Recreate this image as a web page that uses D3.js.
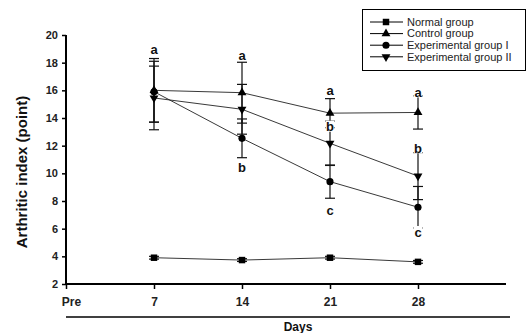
<!DOCTYPE html>
<html><head><meta charset="utf-8">
<script src="https://cdn.jsdelivr.net/npm/d3@7"></script>
<style>body{margin:0;background:#fff}svg{display:block}</style>
</head><body>
<svg id="c" width="528" height="333"></svg>
<script>
const xLabels = ["Pre","7","14","21","28"];
const days = ["7","14","21","28"];
const yTicks = [2,4,6,8,10,12,14,16,18,20];
const seriesNames = ["Normal group","Control group","Experimental group I","Experimental group II"];
const normalMean = [3.9,3.73,3.9,3.6];
const normalSD = [0.1,0.1,0.1,0.1];
const controlMean = [16.0,15.83,14.35,14.4];
const controlSD = [2.3,2.2,1.05,1.2];
const exp1Mean = [15.9,12.53,9.4,7.55];
const exp1SD = [2.2,1.4,1.2,1.5];
const exp2Mean = [15.45,14.63,12.17,9.8];
const exp2SD = [2.3,1.8,1.6,1.7];
const letterDays = ["7","14","14","21","21","21","28","28","28"];
const letterText = ["a","a","b","a","b","c","a","b","c"];
const letterPos = [19.0,18.56,10.45,15.98,13.37,7.35,15.85,11.81,5.76];

const series = [
  {name:seriesNames[0], mean:normalMean, sd:normalSD, sym:d3.symbolSquare, rot:0, size:42},
  {name:seriesNames[1], mean:controlMean, sd:controlSD, sym:d3.symbolTriangle, rot:0, size:34},
  {name:seriesNames[2], mean:exp1Mean, sd:exp1SD, sym:d3.symbolCircle, rot:0, size:40},
  {name:seriesNames[3], mean:exp2Mean, sd:exp2SD, sym:d3.symbolTriangle, rot:180, size:34}
];

const svg = d3.select("#c");
const x = d3.scaleLinear().domain([0,5]).range([66,506]);
const xi = l => x(xLabels.indexOf(l));
const y = d3.scaleLinear().domain([2,20]).range([284,35]);

const line = d3.line().x((d,i)=>xi(days[i])).y(d=>y(d));
series.forEach(s=>{
  svg.append("path").attr("d",line(s.mean)).attr("fill","none").attr("stroke","#222").attr("stroke-width",0.9);
});
series.forEach(s=>{
  const g = svg.append("g").attr("stroke","#111").attr("stroke-width",1.2);
  s.mean.forEach((m,i)=>{
    const cx = xi(days[i]);
    const hi = y(m+s.sd[i]), lo = y(m-s.sd[i]);
    g.append("line").attr("x1",cx).attr("x2",cx).attr("y1",hi).attr("y2",lo);
    [hi,lo].forEach(v=>g.append("line").attr("x1",cx-5).attr("x2",cx+5).attr("y1",v).attr("y2",v));
  });
});
series.forEach(s=>{
  s.mean.forEach((m,i)=>{
    svg.append("path").attr("d",d3.symbol().type(s.sym).size(s.size)())
      .attr("transform",`translate(${xi(days[i])},${y(m)}) rotate(${s.rot})`)
      .attr("fill","#000");
  });
});
letterText.forEach((t,i)=>{
  const cx = xi(letterDays[i]), cy = y(letterPos[i]);
  svg.append("rect").attr("x",cx-4.5).attr("y",cy-6).attr("width",9).attr("height",11).attr("fill","#fff");
  svg.append("text").attr("x",cx).attr("y",cy)
    .attr("dy","0.36em").attr("text-anchor","middle")
    .attr("font-family","Arial, Liberation Sans, sans-serif").attr("font-weight","bold")
    .attr("font-size",13).attr("fill","#111").text(t);
});

const yAxis = d3.axisLeft(y).tickValues(yTicks).tickSize(4).tickPadding(4);
const gy = svg.append("g").attr("transform","translate(66,0)").call(yAxis);
gy.select(".domain").attr("stroke","#000").attr("stroke-width",2).attr("d",`M0,${y(20)}V${y(2)}`);
gy.selectAll(".tick line").attr("stroke","#000").attr("stroke-width",1.5);
gy.selectAll(".tick text").attr("font-family","Arial, Liberation Sans, sans-serif")
  .attr("font-weight","bold").attr("font-size",11).attr("fill","#222");

const xAxis = d3.axisBottom(x).tickValues([0,1,2,3,4]).tickFormat(i=>xLabels[i]).tickSize(5).tickPadding(8);
const gx = svg.append("g").attr("transform","translate(0,284)").call(xAxis);
gx.select(".domain").attr("stroke","#000").attr("stroke-width",2).attr("d",`M${x(0)-1},0H${x(5)}`);
gx.selectAll(".tick line").attr("stroke","#000").attr("stroke-width",1.5);
gx.selectAll(".tick text").attr("font-family","Arial, Liberation Sans, sans-serif")
  .attr("font-weight","bold").attr("font-size",12).attr("fill","#222")
  .attr("dx",(d)=>d===0?5:0);

svg.append("line").attr("x1",66).attr("x2",510).attr("y1",317).attr("y2",317).attr("stroke","#000").attr("stroke-width",1.6);
svg.append("text").attr("x",298).attr("y",331).attr("text-anchor","middle")
  .attr("font-family","Arial, Liberation Sans, sans-serif").attr("font-weight","bold").attr("font-size",12)
  .attr("fill","#111").text("Days");
svg.append("text").attr("transform","translate(27,172) rotate(-90)").attr("text-anchor","middle")
  .attr("font-family","Arial, Liberation Sans, sans-serif").attr("font-weight","bold").attr("font-size",15)
  .attr("fill","#111").text("Arthritic index (point)");

const lg = svg.append("g");
lg.append("rect").attr("x",362.5).attr("y",9.5).attr("width",163).attr("height",61)
  .attr("fill","#fff").attr("stroke","#000").attr("stroke-width",1);
series.forEach((s,i)=>{
  const ly = 22 + i*11.6;
  lg.append("line").attr("x1",370).attr("x2",403).attr("y1",ly).attr("y2",ly).attr("stroke","#000").attr("stroke-width",1);
  lg.append("path").attr("d",d3.symbol().type(s.sym).size(s.size)())
    .attr("transform",`translate(386,${ly}) rotate(${s.rot})`).attr("fill","#000");
  lg.append("text").attr("x",407).attr("y",ly).attr("dy","0.35em")
    .attr("font-family","Arial, Liberation Sans, sans-serif").attr("font-size",11).attr("fill","#222").text(s.name);
});
</script>
</body></html>
